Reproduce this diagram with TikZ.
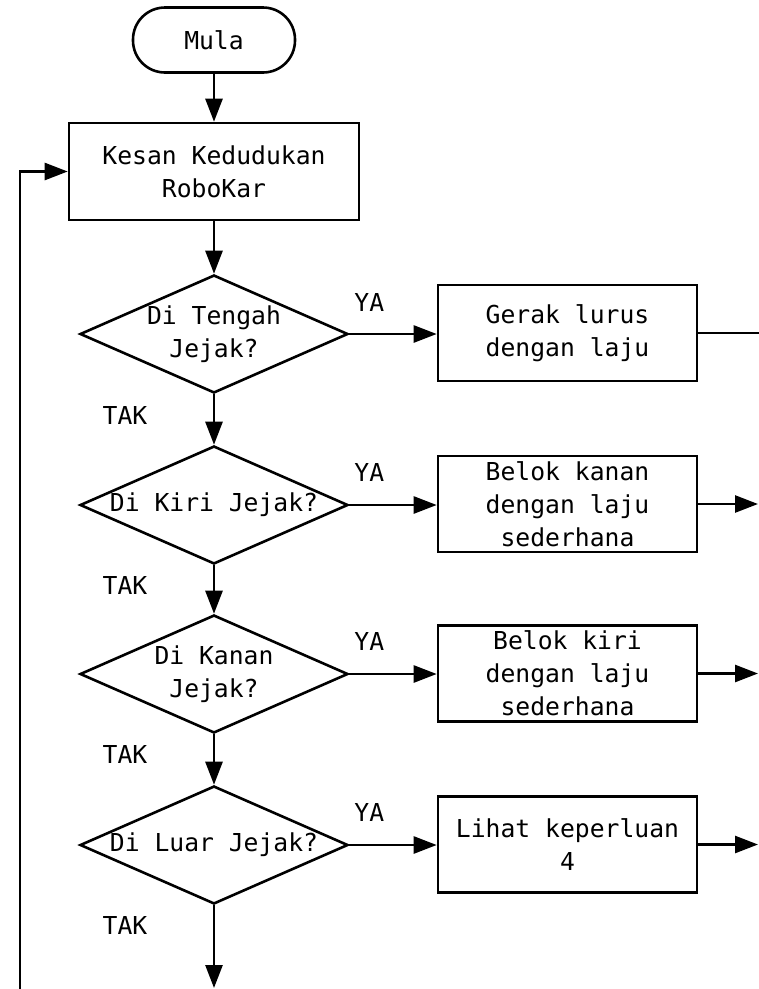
\documentclass[tikz,border=0pt]{standalone}
\usepackage{fontspec}
\newfontfamily\monofam{DejaVu Sans Mono}
\usetikzlibrary{arrows.meta,shapes.geometric,calc}
\begin{document}
\begin{tikzpicture}[x=1pt,y=-1pt,line width=2.6pt,
  every node/.style={font=\monofam\fontsize{24.7}{33}\selectfont},
  term/.style={draw,rectangle,rounded corners=32pt,minimum width=162pt,minimum height=65pt,inner sep=0pt},
  box/.style={draw,rectangle,align=center,inner sep=0pt},
  procbox/.style={box,minimum width=259pt,minimum height=96pt},
  dec/.style={draw,diamond,minimum width=268pt,minimum height=118pt,inner sep=0pt},
  arr/.style={-{Triangle[length=23pt,width=17pt]}}]
\fill[white] (0,0) rectangle (759,989);
\useasboundingbox (0,0) rectangle (759,989);

\node[term] (start) at (214,40) {Mula};
\node[box,minimum width=290pt,minimum height=97pt] (kesan) at (214,171.5) {Kesan Kedudukan\\RoboKar};

\node[dec,label={[align=center]center:{Di Tengah\\Jejak?}}] (d1) at (214,334) {};
\node[dec,label={[align=center]center:{Di Kiri Jejak?}}] (d2) at (214,505) {};
\node[dec,label={[align=center]center:{Di Kanan\\Jejak?}}] (d3) at (214,674) {};
\node[dec,label={[align=center]center:{Di Luar Jejak?}}] (d4) at (214,845) {};

\node[procbox] (r1) at (567.5,333) {Gerak lurus\\dengan laju};
\node[procbox] (r2) at (567.5,504) {Belok kanan\\dengan laju\\sederhana};
\node[procbox] (r3) at (567.5,673.5) {Belok kiri\\dengan laju\\sederhana};
\node[procbox] (r4) at (567.5,844.5) {Lihat keperluan\\4};

\coordinate (o1) at (759,333);
\coordinate (o2) at (758,504);
\coordinate (o3) at (758,673.5);
\coordinate (o4) at (758,844.5);
\coordinate (endpt) at (214,988);
\coordinate (fb) at (20,990);

\draw[arr] (start) -- (kesan);
\draw[arr] (kesan) -- (d1);
\draw[arr] (d1) -- (d2);
\draw[arr] (d2) -- (d3);
\draw[arr] (d3) -- (d4);
\draw[arr] (d4) -- (endpt);

\draw[arr] (d1.east) -- (d1.east -| r1.west);
\draw[arr] (d2.east) -- (d2.east -| r2.west);
\draw[arr] (d3.east) -- (d3.east -| r3.west);
\draw[arr] (d4.east) -- (d4.east -| r4.west);

\draw (r1.east) -- (o1);
\draw[arr] (r2.east) -- (o2);
\draw[arr] (r3.east) -- (o3);
\draw[arr] (r4.east) -- (o4);

\draw[arr] (fb) |- (kesan.west);

\node (ya1) at ($(d1.east)+(20,-32)$) {YA};
\node (ya2) at ($(d2.east)+(20,-33)$) {YA};
\node (ya3) at ($(d3.east)+(20,-33)$) {YA};
\node (ya4) at ($(d4.east)+(20,-33)$) {YA};
\node (tak1) at ($(d1.south)+(-89,21)$) {TAK};
\node (tak2) at ($(d2.south)+(-89,20)$) {TAK};
\node (tak3) at ($(d3.south)+(-89,20)$) {TAK};
\node (tak4) at ($(d4.south)+(-89,20)$) {TAK};
\end{tikzpicture}
\end{document}
